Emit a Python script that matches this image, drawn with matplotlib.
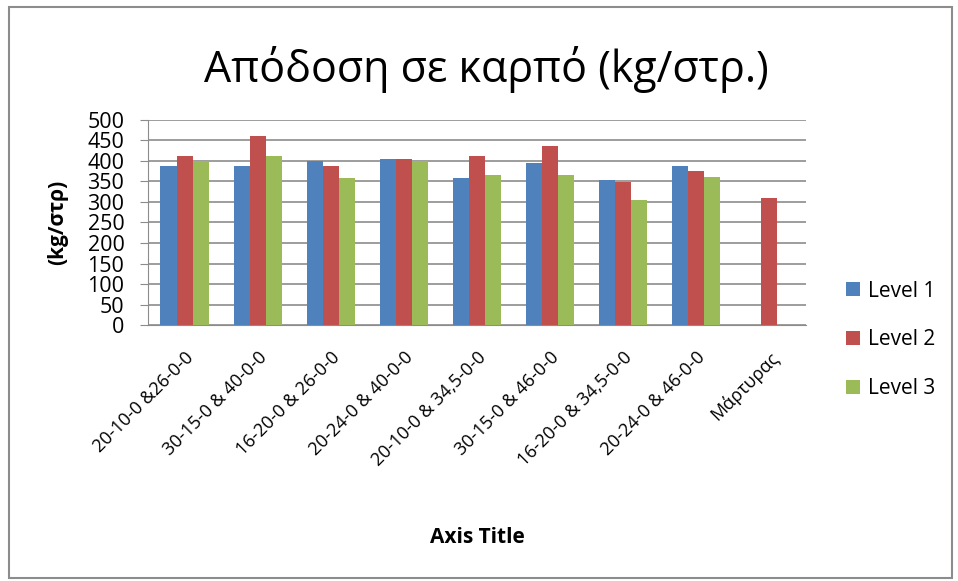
import matplotlib.pyplot as plt
import numpy as np
from matplotlib.patches import Rectangle

plt.rcParams['font.family'] = ['Open Sans', 'DejaVu Sans']

categories = ['20-10-0 &26-0-0', '30-15-0 & 40-0-0', '16-20-0 & 26-0-0',
              '20-24-0 & 40-0-0', '20-10-0 & 34,5-0-0', '30-15-0 & 46-0-0',
              '16-20-0 & 34,5-0-0', '20-24-0 & 46-0-0', 'Μάρτυρας']
level1 = [388, 388, 400, 404, 359, 394, 354, 388, np.nan]
level2 = [413, 461, 388, 406, 413, 437, 348, 376, 310]
level3 = [400, 413, 359, 400, 365, 365, 305, 362, np.nan]

series = [('Level 1', level1, '#4F81BD'),
          ('Level 2', level2, '#C0504D'),
          ('Level 3', level3, '#9BBB59')]

fig = plt.figure(figsize=(9.58, 5.81), dpi=100)
ax = fig.add_axes([0.1545, 0.4406, 0.6865, 0.3529])

x = np.arange(len(categories))
w = 0.22
for i, (name, vals, col) in enumerate(series):
    ax.bar(x + (i - 1) * w, vals, w, color=col, label=name, zorder=3)

ax.set_xlim(-0.5, len(categories) - 0.5)
ax.set_ylim(0, 500)
ax.set_yticks(range(0, 501, 50))
ax.yaxis.grid(True, color='#8c8c8c', linewidth=1.2, zorder=0)
for s in ['top', 'right']:
    ax.spines[s].set_visible(False)
ax.spines['left'].set_color('#8c8c8c')
ax.spines['bottom'].set_color('#8c8c8c')
ax.tick_params(axis='y', length=6, color='#8c8c8c', labelsize=15.5, pad=11)
ax.tick_params(axis='x', length=0, pad=17)
ax.set_xticks(x)
ax.set_xticklabels(categories, rotation=45, ha='right', rotation_mode='anchor',
                   fontsize=13)

fig.text(0.508, 0.88, 'Απόδοση σε καρπό (kg/στρ.)', ha='center', va='center',
         fontsize=31)
fig.text(0.0605, 0.618, '(kg/στρ)', rotation=90, ha='center', va='center',
         fontsize=15, fontweight='bold')
fig.text(0.498, 0.075, 'Axis Title', ha='center', va='center',
         fontsize=15, fontweight='bold')

fig.legend(loc='center left', bbox_to_anchor=(0.864, 0.415), frameon=False,
           fontsize=15, handlelength=0.64, handleheight=0.64, handletextpad=0.4,
           labelspacing=1.33)

# outer chart border
fig.patches.append(Rectangle((0.009, 0.005), 0.985, 0.983, transform=fig.transFigure,
                             fill=False, edgecolor='#8c8c8c', linewidth=1.5))

fig.savefig('out.png', dpi=100)
